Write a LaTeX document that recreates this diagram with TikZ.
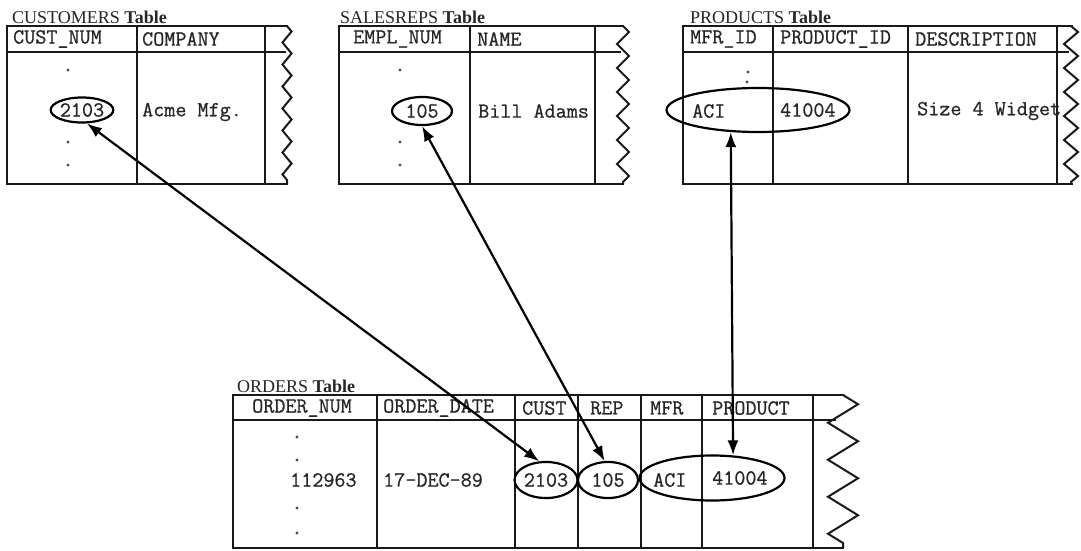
\documentclass[tikz,border=0pt]{standalone}
\usepackage{fontspec}
\setmainfont{Liberation Serif}
\newfontfamily\monof{Latin Modern Mono}[UprightFeatures={FakeBold=0.7}]
\usetikzlibrary{arrows.meta,decorations.pathmorphing,shapes.geometric}
\begin{document}
\begin{tikzpicture}[x=1pt,y=-1pt,
  tline/.style={line width=2.4pt,draw=black!90,line cap=rect},
  zz/.style 2 args={line width=2pt,draw=black!90,decorate,decoration={zigzag,segment length=#1,amplitude=#2}},
  mono/.style={font=\monof\fontsize{21.5}{24}\selectfont,text=black!85},
  txt/.style={mono,anchor=west,inner sep=0pt},
  ttl/.style={anchor=base west,inner sep=0pt,font=\fontsize{18}{20}\selectfont,text=black!85},
  dotmark/.style={circle,fill=black!70,inner sep=0pt,minimum size=3.2pt},
  oval/.style={ellipse,draw=black,line width=2.2pt,inner sep=0pt,mono},
  link/.style={line width=2.2pt,draw=black,{Latex[length=15pt,width=11pt]}-{Latex[length=15pt,width=11pt]}}
]
\useasboundingbox[fill=white] (0,0) rectangle (1081,551);

% ---------- CUSTOMERS ----------
\node[ttl] (tcust) at (12,24) {CUSTOMERS \textbf{Table}};
\draw[tline] (287,26) -- (7,26) -- (7,184) -- (287,184);
\draw[tline] (7,52) -- (285,52);
\draw[tline] (137,26) -- (137,184) (265,26) -- (265,184);
\draw[zz={22pt}{4.5pt}] (287,26) -- (287,184);
\node[txt] (hcn) at (13,39) {CUST\_NUM};
\node[txt] (hco) at (142,39) {COMPANY};
\node[dotmark] (cd1) at (68,70) {};
\node[dotmark] (cd2) at (68,142) {};
\node[dotmark] (cd3) at (68,165) {};
\node[oval,minimum width=58pt,minimum height=25pt] (c2103) at (82,110) {2103};
\node[txt] (cacme) at (142,112) {Acme Mfg.};

% ---------- SALESREPS ----------
\node[ttl] (tsal) at (340,24) {SALESREPS \textbf{Table}};
\draw[tline] (623,26) -- (339,26) -- (339,184) -- (623,184);
\draw[tline] (339,52) -- (620,52);
\draw[tline] (470,26) -- (470,184) (595,26) -- (595,184);
\draw[zz={24pt}{6pt}] (623,26) -- (623,184);
\node[txt] (hen) at (353,39) {EMPL\_NUM};
\node[txt] (hna) at (477,39) {NAME};
\node[dotmark] (sd1) at (400,70) {};
\node[dotmark] (sd2) at (400,142) {};
\node[dotmark] (sd3) at (400,165) {};
\node[oval,minimum width=60pt,minimum height=28pt] (s105) at (422,111) {105};
\node[txt] (sbill) at (478,111) {Bill Adams};

% ---------- PRODUCTS ----------
\node[ttl] (tprod) at (690,24) {PRODUCTS \textbf{Table}};
\draw[tline] (1072,26) -- (683,26) -- (683,184) -- (1072,184);
\draw[tline] (683,52) -- (1068,52);
\draw[tline] (773,26) -- (773,184) (908,26) -- (908,184) (1057,26) -- (1057,184);
\draw[zz={24pt}{7pt}] (1071,26) -- (1071,184);
\node[txt] (hmi) at (690,39) {MFR\_ID};
\node[txt] (hpi) at (780,39) {PRODUCT\_ID};
\node[txt] (hde) at (915,39) {DESCRIPTION};
\node[dotmark] (pd1) at (748,72) {};
\node[dotmark] (pd2) at (747,82) {};
\node[oval,minimum width=183pt,minimum height=44pt] (pell) at (758,110) {};
\node[txt] (paci) at (692,111) {ACI};
\node[txt] (p41) at (780,110) {41004};
\node[txt] (pdesc) at (917,111) {Size 4 Widget};

% ---------- ORDERS ----------
\node[ttl] (tord) at (237,392) {ORDERS \textbf{Table}};
\draw[tline] (843,395) -- (233,395) -- (233,548) -- (843,548);
\draw[tline] (233,420) -- (835,420);
\draw[tline] (377,395) -- (377,548) (515,395) -- (515,548) (578,395) -- (578,548)
  (641,395) -- (641,548) (702,395) -- (702,548) (813,395) -- (813,548);
\draw[zz={37pt}{15pt}] (843,395) -- (843,548);
\node[txt] (hon) at (252,408) {ORDER\_NUM};
\node[txt] (hod) at (383,408) {ORDER\_DATE};
\node[txt] (hcu) at (522,408) {CUST};
\node[txt] (hre) at (590,408) {REP};
\node[txt] (hmf) at (650,408) {MFR};
\node[txt] (hpr) at (712,408) {PRODUCT};
\node[dotmark] (od1) at (297,437) {};
\node[dotmark] (od2) at (297,460) {};
\node[dotmark] (od3) at (297,508) {};
\node[dotmark] (od4) at (297,533) {};
\node[txt] (onum) at (290,480) {112963};
\node[txt] (odate) at (383,480) {17-DEC-89};
\node[oval,minimum width=63pt,minimum height=36pt] (o2103) at (546,480) {2103};
\node[oval,minimum width=60pt,minimum height=36pt] (o105) at (608,480) {105};
\node[oval,minimum width=145pt,minimum height=45pt] (oell) at (712,478) {};
\node[txt] (oaci) at (653,480) {ACI};
\node[txt] (o41) at (712,478) {41004};

% ---------- links ----------
\draw[link] (c2103.-70) -- (o2103.110);
\draw[link] (s105.-90) -- (o105.100);
\draw[link] (pell.-141) -- (oell.47);
\end{tikzpicture}
\end{document}
